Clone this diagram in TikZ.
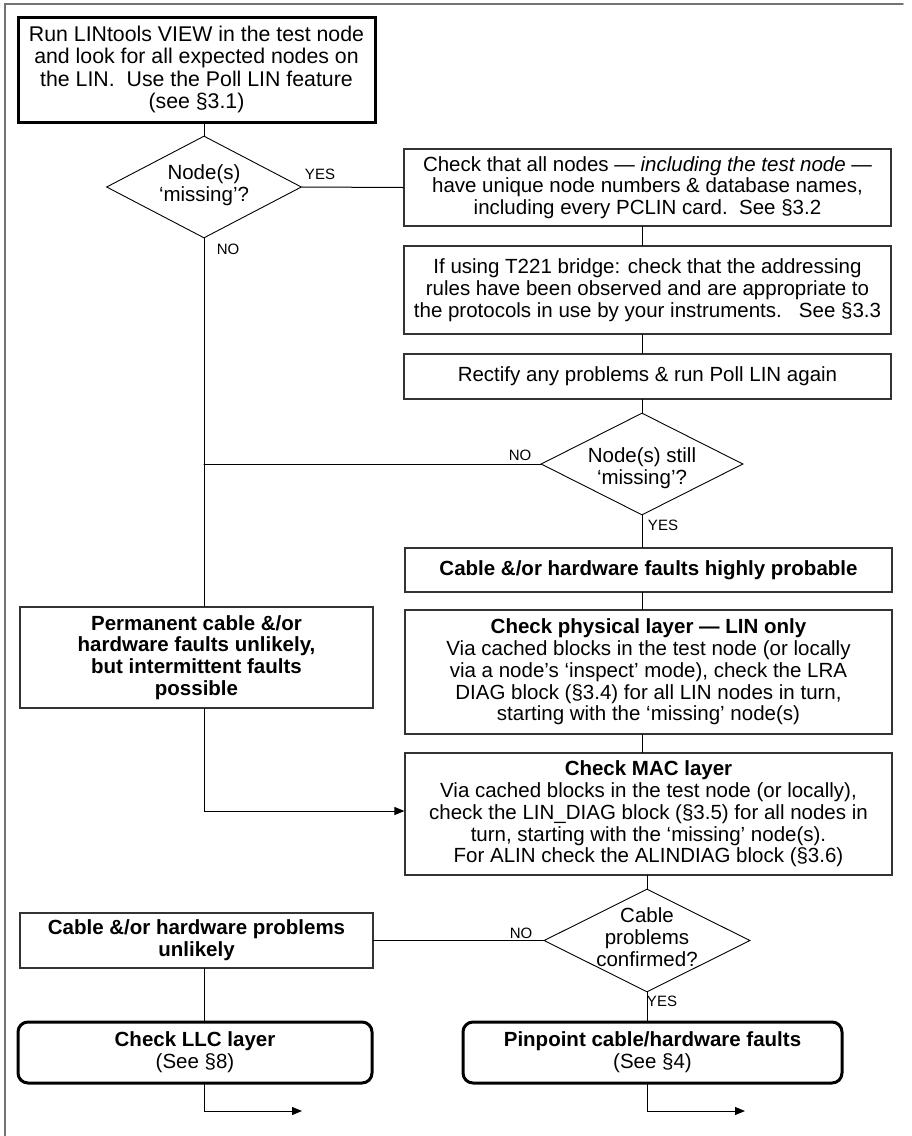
\documentclass[tikz,border=0pt]{standalone}
\usepackage{fontspec}
\setmainfont{Liberation Sans}
\usepackage{tikz}
\usetikzlibrary{arrows.meta, calc, shapes.geometric}
\definecolor{boxGray}{gray}{0.2}
\definecolor{frameGray}{gray}{0.45}
\tikzset{
	stepbox/.style={draw=boxGray, line width=1.2pt, inner sep=0pt, align=center},
	startbox/.style={draw=black, line width=3pt, inner sep=0pt, align=center, font=\fontsize{21.3}{22.2}\selectfont},
	endbox/.style={draw=black, line width=3pt, rounded corners=10pt, inner sep=0pt, align=center},
	decision/.style={diamond, draw=black, line width=0.9pt, inner sep=0pt},
	dtext/.style={align=center, inner sep=0pt},
	lbl/.style={font=\fontsize{15}{17}\selectfont, inner sep=0pt},
	link/.style={draw=black, line width=1pt},
	linkto/.style={link, -{Triangle[length=10pt, width=8pt]}}
}

\begin{document}
\begin{tikzpicture}[x=1pt, y=-1pt, line cap=round, font=\fontsize{20.5}{21.8}\selectfont]

	\useasboundingbox (0,0) rectangle (912,1136);
	\draw[frameGray, line width=1.5pt] (5,1136) -- (5,4) -- (903,4);

	% left column
	\node[startbox, minimum width=357, minimum height=105] (start) at (196.5,69.5)
		{Run LINtools VIEW in the test node\\and look for all expected nodes on\\the LIN.~~Use the Poll LIN feature\\(see §3.1)};
	\node[decision, minimum width=195, minimum height=102] (miss) at (204,187) {};
	\node[dtext] (missT) at (204,185) {Node(s)\\‘missing’?};
	\node[stepbox, minimum width=353, minimum height=101] (perm) at (196.5,657.5)
		{\textbf{Permanent cable \&/or}\\\textbf{hardware faults unlikely,}\\\textbf{but intermittent faults}\\\textbf{possible}};
	\node[stepbox, minimum width=353, minimum height=55] (unlikely) at (196.5,940.5)
		{\textbf{Cable \&/or hardware problems}\\\textbf{unlikely}};
	\node[endbox, minimum width=354, minimum height=61] (llc) at (195,1052.5)
		{\textbf{Check LLC layer}\\(See §8)};

	% right column
	\node[stepbox, minimum width=487, minimum height=77] (unique) at (647.5,187.5)
		{Check that all nodes — \textit{including the test node} —\\have unique node numbers \& database names,\\including every PCLIN card.~~See §3.2};
	\node[stepbox, minimum width=487, minimum height=88] (bridge) at (647.5,290)
		{If using T221 bridge: check that the addressing\\rules have been observed and are appropriate to\\the protocols in use by your instruments.~~~See §3.3};
	\node[stepbox, minimum width=487, minimum height=45] (rectify) at (647.5,376.5)
		{Rectify any problems \& run Poll LIN again};
	\node[decision, minimum width=202, minimum height=102] (still) at (642,464) {};
	\node[dtext] (stillT) at (642,468) {Node(s) still\\‘missing’?};
	\node[stepbox, minimum width=487, minimum height=44] (probable) at (648.5,570)
		{\textbf{Cable \&/or hardware faults highly probable}};
	\node[stepbox, minimum width=487, minimum height=124] (phys) at (648.5,672)
		{\textbf{Check physical layer — LIN only}\\Via cached blocks in the test node (or locally\\via a node’s ‘inspect’ mode), check the LRA\\DIAG block (§3.4) for all LIN nodes in turn,\\starting with the ‘missing’ node(s)};
	\node[stepbox, minimum width=487, minimum height=122] (mac) at (648.5,814)
		{\textbf{Check MAC layer}\\Via cached blocks in the test node (or locally),\\check the LIN\_DIAG block (§3.5) for all nodes in\\turn, starting with the ‘missing’ node(s).\\For ALIN check the ALINDIAG block (§3.6)};
	\node[decision, minimum width=206, minimum height=103] (cable) at (647,940.5) {};
	\node[dtext] (cableT) at (647,937) {Cable\\problems\\confirmed?};
	\node[endbox, minimum width=379, minimum height=61] (pin) at (652.5,1052.5)
		{\textbf{Pinpoint cable/hardware faults}\\(See §4)};

	\coordinate (llcOut) at (302,1111);
	\coordinate (pinOut) at (745,1111);

	% connectors
	\draw[link] (start.south -| miss.north) -- (miss.north);
	\draw[link] (miss.east) -- (unique.west);
	\draw[link] (unique.south -| still.north) -- (bridge.north -| still.north);
	\draw[link] (bridge.south -| still.north) -- (rectify.north -| still.north);
	\draw[link] (rectify.south -| still.north) -- (still.north);
	\draw[link] (still.west) -- (still.west -| miss.south);
	\draw[link] (miss.south) -- (perm.north -| miss.south);
	\draw[link] (still.south) -- (probable.north -| still.south);
	\draw[link] (probable.south -| still.south) -- (phys.north -| still.south);
	\draw[link] (phys.south -| still.south) -- (mac.north -| still.south);
	\draw[linkto] (perm.south -| miss.south) |- ($(mac.west)+(0,-3)$);
	\draw[link] (mac.south -| cable.north) -- (cable.north);
	\draw[link] (cable.west) -- (unlikely.east);
	\draw[link] (unlikely.south -| miss.south) -- (llc.north -| miss.south);
	\draw[link] (cable.south) -- (pin.north -| cable.south);
	\draw[linkto] (llc.south -| miss.south) |- (llcOut);
	\draw[linkto] (pin.south -| cable.south) |- (pinOut);

	% branch labels
	\node[lbl] (yesA) at (320,174) {YES};
	\node[lbl] (noA) at (228,249) {NO};
	\node[lbl] (noB) at (520,455) {NO};
	\node[lbl] (yesB) at (663,525) {YES};
	\node[lbl] (noC) at (521,933) {NO};
	\node[lbl] (yesC) at (662,1001) {YES};

\end{tikzpicture}
\end{document}
